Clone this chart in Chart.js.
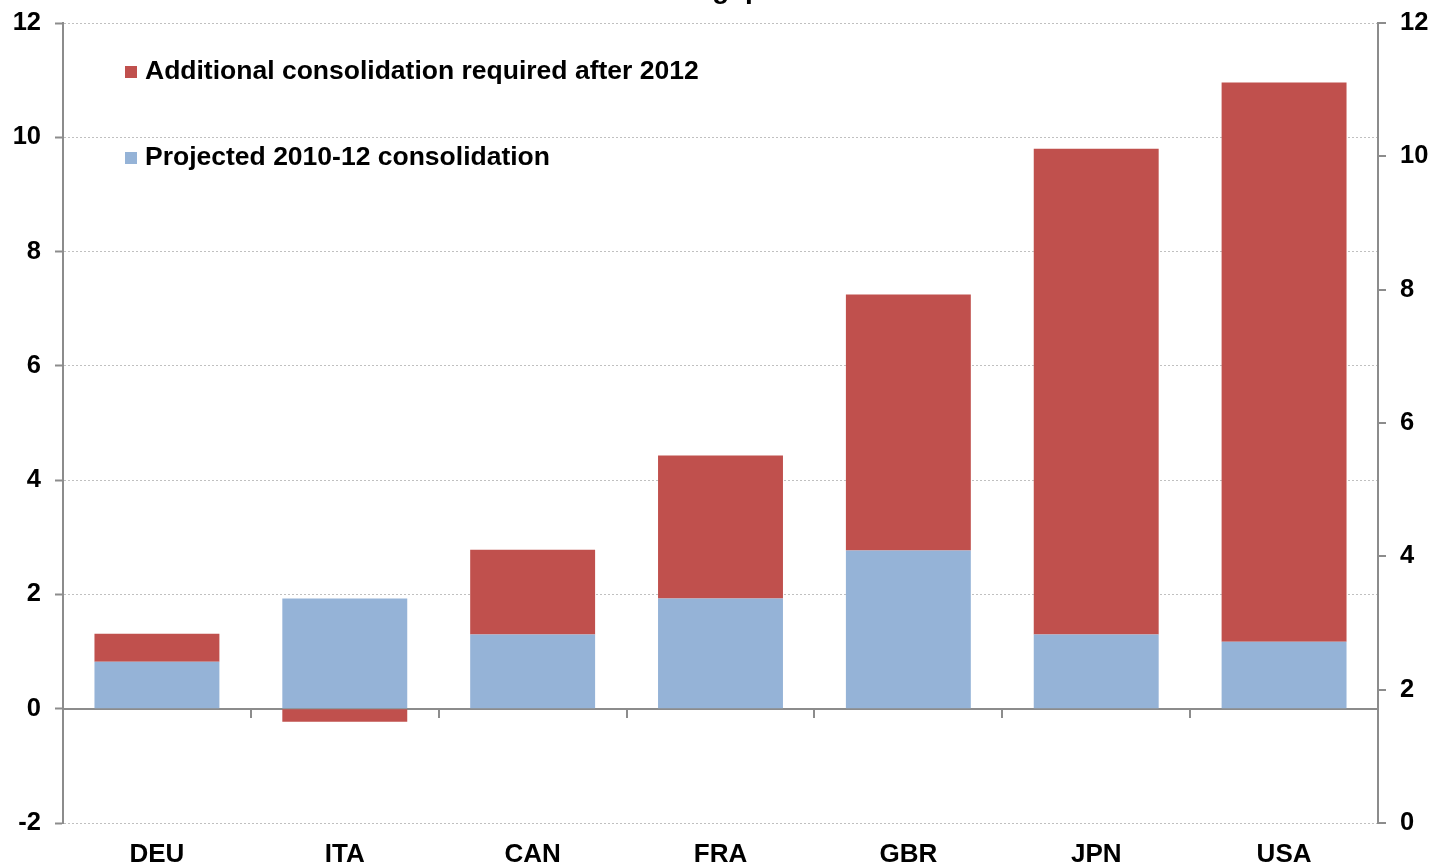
<!DOCTYPE html>
<html>
<head>
<meta charset="utf-8">
<script src="https://cdn.jsdelivr.net/npm/chart.js@4"></script>
<style>
  html, body { margin: 0; padding: 0; background: #fff; }
  #wrap { width: 1434px; height: 866px; }
</style>
</head>
<body>
<div id="wrap"><canvas id="gap"></canvas></div>
<script>
const countries = ['DEU', 'ITA', 'CAN', 'FRA', 'GBR', 'JPN', 'USA'];
const projected = [0.82, 1.93, 1.30, 1.93, 2.77, 1.30, 1.17];
const additional = [0.49, -0.23, 1.48, 2.50, 4.48, 8.50, 9.79];
const leftTicks = [-2, 0, 2, 4, 6, 8, 10, 12];
const rightTicks = [0, 2, 4, 6, 8, 10, 12];
const chartTitle = 'Fiscal consolidation gap';

const RED = '#C0504D';
const BLUE = '#95B3D7';
const AXIS = '#8c8c8c';
const FONT = '"Liberation Sans", Arial, sans-serif';

// legend sits inside the plot, red first then blue
const legendBox = {
  id: 'legendBox',
  afterDraw(chart) {
    const ctx = chart.ctx;
    const items = [chart.data.datasets[1], chart.data.datasets[0]];
    ctx.save();
    ctx.font = 'bold 26.5px ' + FONT;
    ctx.textBaseline = 'middle';
    items.forEach((ds, i) => {
      const y = 72 + i * 86;
      ctx.fillStyle = ds.backgroundColor;
      ctx.fillRect(125, y - 6, 12, 12);
      ctx.fillStyle = '#000';
      ctx.fillText(ds.label, 145, y);
    });
    // title, clipped by the top edge
    ctx.font = 'bold 28px ' + FONT;
    ctx.textAlign = 'right';
    ctx.textBaseline = 'alphabetic';
    ctx.fillText(chartTitle, 762, -2);
    ctx.restore();
  }
};

function fitY(width) {
  return s => {
    s.width = width;
    s.paddingTop = 0;
    s.paddingBottom = 0;
  };
}

new Chart(document.getElementById('gap'), {
  type: 'bar',
  data: {
    labels: countries,
    datasets: [
      { label: 'Projected 2010-12 consolidation', data: projected, backgroundColor: BLUE, stack: 's' },
      { label: 'Additional consolidation required after 2012', data: additional, backgroundColor: RED, stack: 's' }
    ]
  },
  options: {
    responsive: true,
    maintainAspectRatio: false,
    animation: false,
    layout: { padding: { top: 23, left: 0, right: 0, bottom: 0 } },
    datasets: { bar: { categoryPercentage: 0.665, barPercentage: 1 } },
    plugins: { legend: { display: false }, tooltip: { enabled: false } },
    scales: {
      x: {
        stacked: true,
        position: 'bottom',
        afterFit: s => { s.height = 43; },
        grid: { display: false, drawTicks: false },
        border: { display: false },
        ticks: { color: '#000', padding: 16, font: { family: FONT, size: 26, weight: 'bold' } }
      },
      x0: {
        type: 'category',
        labels: countries,
        position: { y: 0 },
        z: 1,
        grid: { offset: true, drawOnChartArea: false, tickLength: 8, color: AXIS, lineWidth: 2 },
        border: { color: AXIS, width: 2 },
        ticks: { display: false }
      },
      y: {
        stacked: true,
        position: 'left',
        min: -2,
        max: 12,
        afterBuildTicks: s => { s.ticks = leftTicks.map(v => ({ value: v })); },
        afterFit: fitY(63),
        grid: {
          color: '#c0c0c0',
          lineWidth: 1,
          tickLength: 8,
          tickColor: AXIS,
          tickWidth: 2
        },
        border: { color: AXIS, width: 2, dash: [2, 2] },
        ticks: { color: '#000', padding: 14, font: { family: FONT, size: 25.5, weight: 'bold' } }
      },
      y2: {
        position: 'right',
        min: 0,
        max: 12,
        afterBuildTicks: s => { s.ticks = rightTicks.map(v => ({ value: v })); },
        afterFit: fitY(56),
        grid: { drawOnChartArea: false, tickLength: 8, color: AXIS, lineWidth: 2 },
        border: { color: AXIS, width: 2 },
        ticks: { color: '#000', padding: 14, font: { family: FONT, size: 25.5, weight: 'bold' } }
      }
    }
  },
  plugins: [legendBox]
});
</script>
</body>
</html>
